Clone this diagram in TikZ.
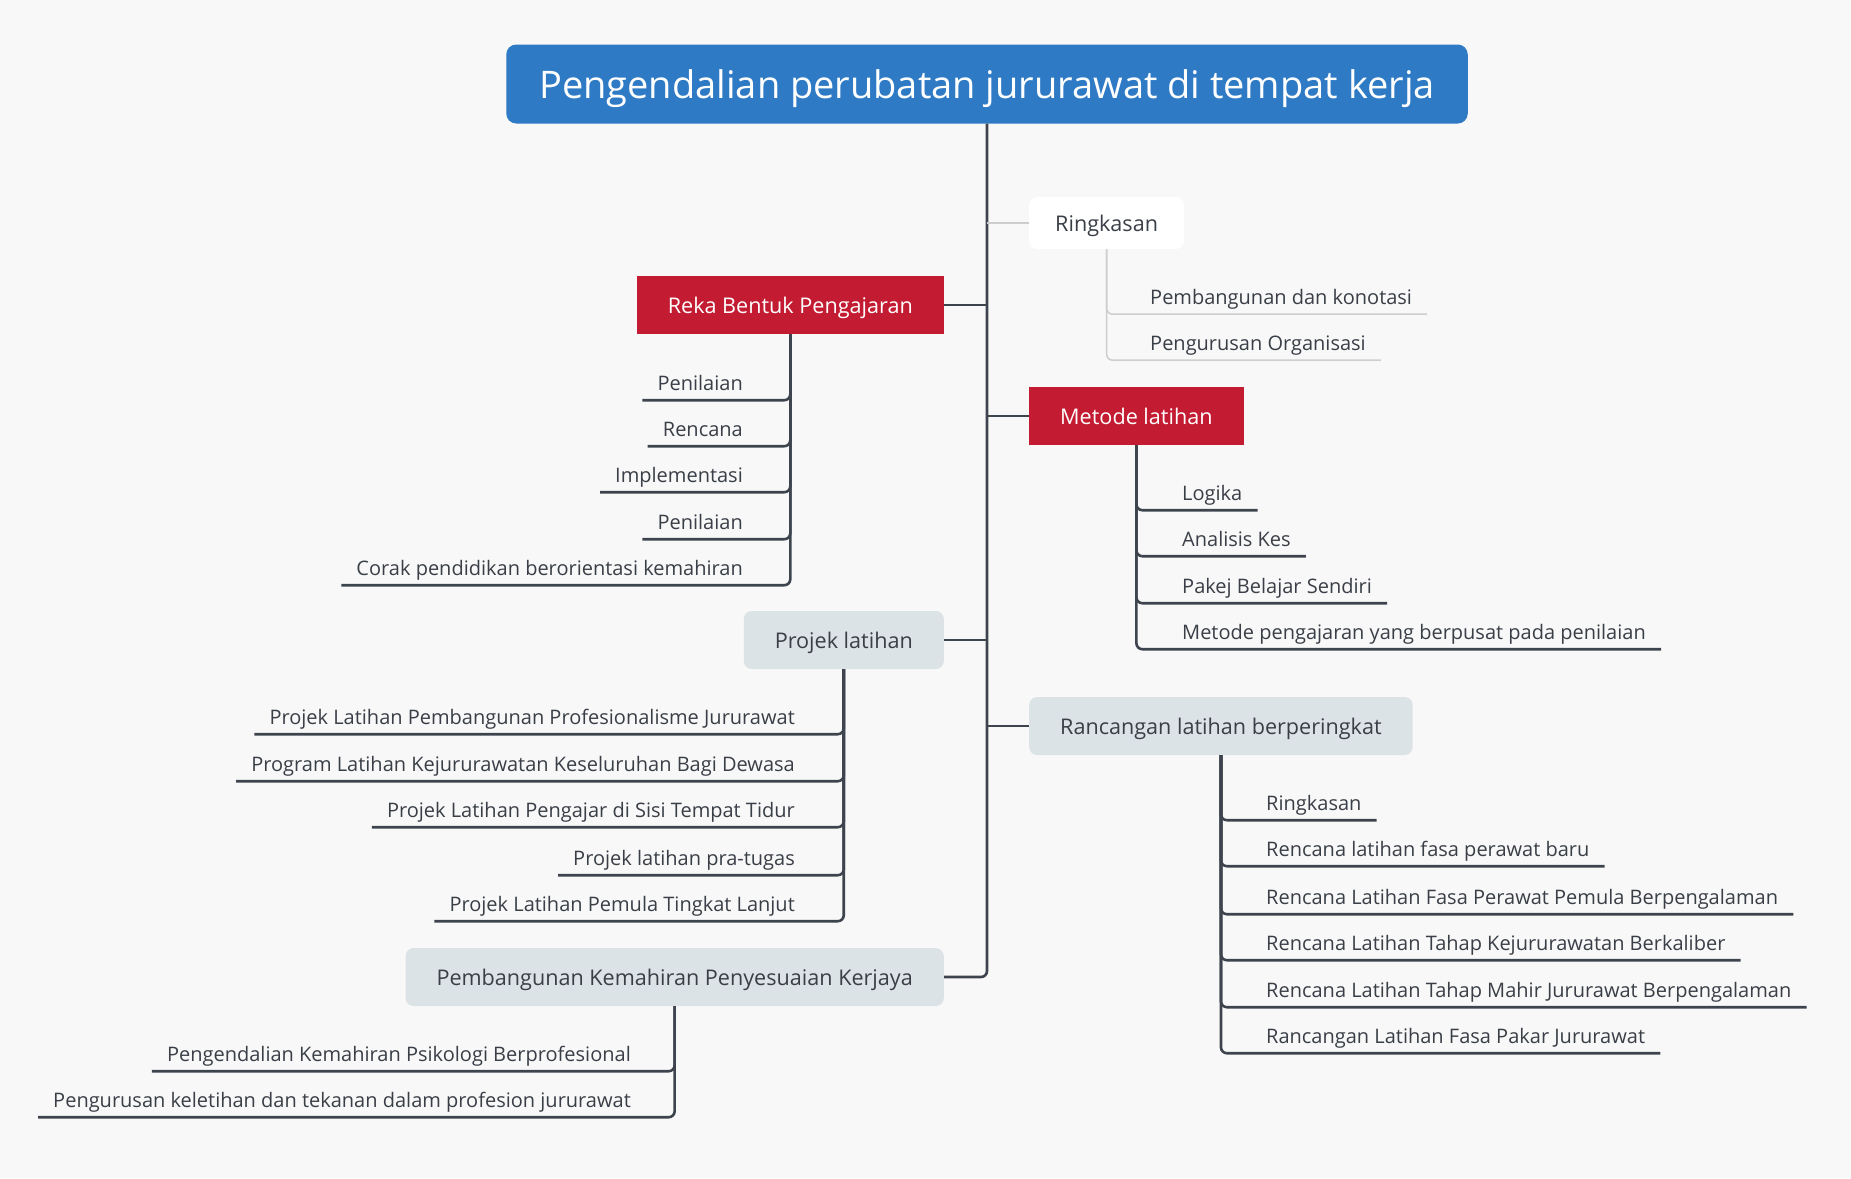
\documentclass[tikz,border=0pt]{standalone}
\usepackage{fontspec}
\setmainfont{Open Sans}
\usetikzlibrary{positioning}
\definecolor{rootblue}{HTML}{2E7AC4}
\definecolor{branchred}{HTML}{C31B32}
\definecolor{boxgray}{HTML}{DCE3E6}
\definecolor{linedark}{HTML}{3D444E}
\definecolor{linelight}{HTML}{CDCDCD}
\definecolor{textdark}{HTML}{3A3F47}
\definecolor{bgpaper}{HTML}{F8F8F8}

\begin{document}
\begin{tikzpicture}[x=1pt,y=-1pt,
  rootbox/.style={fill=rootblue,text=white,rounded corners=10pt,minimum height=79pt,inner xsep=33pt,text depth=0pt,font=\fontsize{38}{44}\selectfont},
  redbox/.style={fill=branchred,text=white,minimum height=58pt,inner xsep=31pt,text depth=0pt,font=\fontsize{21.6}{26}\selectfont},
  graybox/.style={fill=boxgray,text=textdark,rounded corners=8pt,minimum height=58pt,inner xsep=31pt,text depth=0pt,font=\fontsize{21.6}{26}\selectfont},
  whitebox/.style={fill=white,text=textdark,rounded corners=8pt,minimum height=52pt,inner xsep=26pt,text depth=0pt,font=\fontsize{21.6}{26}\selectfont},
  leaf/.style={text=textdark,inner xsep=15pt,inner ysep=10pt,text depth=0pt,font=\fontsize{20}{24}\selectfont},
  conn/.style={draw=linedark,line width=2.6pt,rounded corners=6pt},
  lightconn/.style={draw=linelight,line width=1.5pt,rounded corners=6pt}]

\useasboundingbox[fill=bgpaper] (0,0) rectangle (1851,1178);

% Root
\node[rootbox] (root) at (987,84) {Pengendalian perubatan jururawat di tempat kerja};

% Main branches
\node[whitebox,anchor=west] (rs) at (1029,223) {Ringkasan};
\node[redbox,anchor=east] (rb) at (944,305) {Reka Bentuk Pengajaran};
\node[redbox,anchor=west] (ml) at (1029,416) {Metode latihan};
\node[graybox,anchor=east] (pl) at (944,640) {Projek latihan};
\node[graybox,anchor=west] (rl) at (1029,726) {Rancangan latihan berperingkat};
\node[graybox,anchor=east] (pk) at (944,977) {Pembangunan Kemahiran Penyesuaian Kerjaya};

\draw[conn] (root.south) |- (pk.east);
\draw[lightconn] (root.south |- rs.west) -- (rs.west);
\draw[conn] (root.south |- rb.east) -- (rb.east);
\draw[conn] (root.south |- ml.west) -- (ml.west);
\draw[conn] (root.south |- pl.east) -- (pl.east);
\draw[conn] (root.south |- rl.west) -- (rl.west);

% Ringkasan
\node[leaf,anchor=base west] (rs1) at (1135,304) {Pembangunan dan konotasi};
\node[leaf,anchor=base west] (rs2) at (1135,350) {Pengurusan Organisasi};
\foreach \i in {1,2} \draw[lightconn] (rs.south) |- (rs\i.south east);

% Reka Bentuk Pengajaran
\node[leaf,anchor=base east] (rb1) at (758,390) {Penilaian};
\node[leaf,anchor=base east] (rb2) at (758,436) {Rencana};
\node[leaf,anchor=base east] (rb3) at (758,482) {Implementasi};
\node[leaf,anchor=base east] (rb4) at (758,529) {Penilaian};
\node[leaf,anchor=base east] (rb5) at (758,575) {Corak pendidikan berorientasi kemahiran};
\foreach \i in {1,...,5} \draw[conn] (rb.south) |- (rb\i.south west);

% Metode latihan
\node[leaf,anchor=base west] (ml1) at (1167,500) {Logika};
\node[leaf,anchor=base west] (ml2) at (1167,546) {Analisis Kes};
\node[leaf,anchor=base west] (ml3) at (1167,593) {Pakej Belajar Sendiri};
\node[leaf,anchor=base west] (ml4) at (1167,639) {Metode pengajaran yang berpusat pada penilaian};
\foreach \i in {1,...,4} \draw[conn] (ml.south) |- (ml\i.south east);

% Projek latihan
\node[leaf,anchor=base east] (pl1) at (810,724) {Projek Latihan Pembangunan Profesionalisme Jururawat};
\node[leaf,anchor=base east] (pl2) at (810,771) {Program Latihan Kejururawatan Keseluruhan Bagi Dewasa};
\node[leaf,anchor=base east] (pl3) at (810,817) {Projek Latihan Pengajar di Sisi Tempat Tidur};
\node[leaf,anchor=base east] (pl4) at (810,865) {Projek latihan pra-tugas};
\node[leaf,anchor=base east] (pl5) at (810,911) {Projek Latihan Pemula Tingkat Lanjut};
\foreach \i in {1,...,5} \draw[conn] (pl.south) |- (pl\i.south west);

% Rancangan latihan berperingkat
\node[leaf,anchor=base west] (rl1) at (1251,810) {Ringkasan};
\node[leaf,anchor=base west] (rl2) at (1251,856) {Rencana latihan fasa perawat baru};
\node[leaf,anchor=base west] (rl3) at (1251,904) {Rencana Latihan Fasa Perawat Pemula Berpengalaman};
\node[leaf,anchor=base west] (rl4) at (1251,950) {Rencana Latihan Tahap Kejururawatan Berkaliber};
\node[leaf,anchor=base west] (rl5) at (1251,997) {Rencana Latihan Tahap Mahir Jururawat Berpengalaman};
\node[leaf,anchor=base west] (rl6) at (1251,1043) {Rancangan Latihan Fasa Pakar Jururawat};
\foreach \i in {1,...,6} \draw[conn] (rl.south) |- (rl\i.south east);

% Pembangunan Kemahiran Penyesuaian Kerjaya
\node[leaf,anchor=base east] (pk1) at (646,1061) {Pengendalian Kemahiran Psikologi Berprofesional};
\node[leaf,anchor=base east] (pk2) at (646,1107) {Pengurusan keletihan dan tekanan dalam profesion jururawat};
\foreach \i in {1,2} \draw[conn] (pk.south) |- (pk\i.south west);
\end{tikzpicture}
\end{document}
